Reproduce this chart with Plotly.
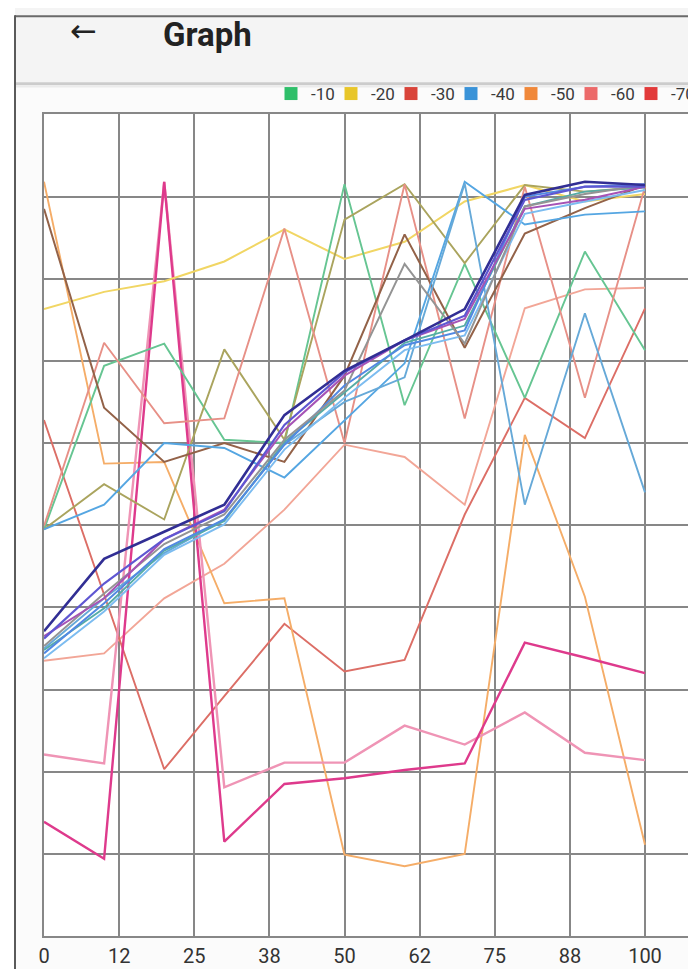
import plotly.graph_objects as go

# ---------------- data ----------------
x_vals = [0, 10, 20, 30, 40, 50, 60, 70, 80, 90, 100]
tick_vals = [0, 12.5, 25, 37.5, 50, 62.5, 75, 87.5, 100]
tick_text = ["0", "12", "25", "38", "50", "62", "75", "88", "100"]

legend_names = ["-10", "-20", "-30", "-40", "-50", "-60", "-70"]
legend_colors = ["#2fbf6a", "#e8c62a", "#d9443a", "#3a93d8", "#f0883a", "#ec6a6a", "#e23a3a"]

s_green = [49.5, 69.4, 72.1, 60.4, 60.0, 91.5, 64.6, 81.8, 65.5, 83.3, 71.3]
s_yellow = [76.3, 78.4, 79.7, 82.1, 86.0, 82.4, 84.5, 89.4, 91.4, 89.4, 90.3]
s_red = [62.8, 41.5, 20.3, 29.2, 38.0, 32.2, 33.6, 51.3, 65.5, 60.6, 76.4]
s_lblue = [49.5, 52.5, 60.0, 59.4, 55.8, 62.8, 69.7, 91.8, 86.6, 87.8, 88.2]
s_orange = [91.8, 57.5, 57.7, 40.5, 41.1, 9.9, 8.5, 10.0, 61.0, 41.3, 11.1]
s_salmon = [49.9, 72.2, 62.4, 63.0, 86.1, 60.0, 91.5, 63.0, 91.2, 65.5, 91.2]
s_lsalmon = [33.5, 34.4, 41.1, 45.3, 51.9, 59.8, 58.3, 52.5, 76.4, 78.7, 78.9]
s_brown = [88.5, 64.3, 57.7, 60.0, 57.7, 68.2, 85.4, 71.6, 85.5, 88.6, 91.4]
s_olive = [49.5, 55.0, 50.7, 71.4, 60.4, 87.2, 91.5, 81.9, 91.4, 90.6, 91.2]
s_magenta = [13.9, 9.4, 91.8, 11.5, 18.5, 19.2, 20.2, 21.0, 35.7, 33.9, 32.0]
s_pink = [22.1, 21.0, 91.8, 18.1, 21.1, 21.1, 25.6, 23.3, 27.2, 22.3, 21.4]
s_navy = [37.1, 45.9, 49.2, 52.5, 63.4, 68.8, 72.5, 76.3, 90.2, 91.8, 91.4]
s_indigo = [36.2, 42.9, 48.3, 51.7, 62.2, 68.6, 72.5, 75.5, 89.6, 91.2, 91.2]
s_gray = [35.3, 41.7, 47.7, 51.3, 60.4, 66.4, 81.8, 72.1, 88.8, 90.3, 91.4]
s_blue = [34.4, 40.5, 47.1, 50.7, 59.8, 67.0, 71.9, 73.7, 90.0, 91.2, 91.5]
s_teal = [34.8, 39.9, 46.9, 50.5, 60.1, 66.2, 72.2, 74.3, 88.8, 90.6, 91.1]
s_sky = [33.8, 39.5, 46.4, 50.1, 59.2, 65.5, 71.3, 73.1, 87.9, 89.4, 90.8]
s_purple = [36.5, 41.1, 48.3, 51.9, 61.6, 68.2, 72.5, 75.1, 88.5, 89.6, 91.2]
s_steel = [35.0, 41.1, 46.6, 50.7, 59.8, 65.0, 68.0, 91.6, 52.5, 75.8, 54.0]

series = [
    (s_lsalmon, "#f2a697", 1.9),
    (s_red, "#dc6e66", 1.9),
    (s_orange, "#f5ad68", 1.9),
    (s_pink, "#ef94b5", 2.4),
    (s_magenta, "#de3a8c", 2.4),
    (s_yellow, "#f1d664", 2.0),
    (s_green, "#66c592", 1.9),
    (s_olive, "#aaa45e", 1.9),
    (s_salmon, "#e79087", 1.9),
    (s_brown, "#936248", 2.0),
    (s_lblue, "#55a6e2", 1.9),
    (s_steel, "#66a9d8", 1.9),
    (s_sky, "#7cbcf0", 1.9),
    (s_teal, "#55aca6", 1.9),
    (s_blue, "#5289e2", 2.0),
    (s_gray, "#949494", 2.0),
    (s_purple, "#a653b5", 2.0),
    (s_indigo, "#5f57d2", 2.2),
    (s_navy, "#312e94", 2.6),
]

# ---------------- geometry (page px -> figure) ----------------
W, H = 696, 969
OFFX, OFFY = 8, 12   # where the page puts the figure
L = 44 - OFFX
T = 112 - OFFY
B = H - (940 - OFFY)
R = 0
PW = W - L - R
PH = H - T - B


def px(p):
    return (p - OFFX - L) / PW


def py(p):
    return (940 - p) / PH


fig = go.Figure()

for vals, col, w in series:
    fig.add_trace(go.Scatter(x=x_vals, y=vals, mode="lines",
                             line=dict(color=col, width=w),
                             showlegend=False, hoverinfo="skip"))

for name, col in zip(legend_names, legend_colors):
    fig.add_trace(go.Scatter(x=[None], y=[None], mode="markers", name=name,
                             marker=dict(symbol="square", size=13, color=col)))

shapes = [
    # app bar
    dict(type="rect", xref="paper", yref="paper", x0=px(15), x1=px(720), y0=py(80), y1=py(0),
         fillcolor="#f4f4f4", line=dict(width=0), layer="below"),
    dict(type="rect", xref="paper", yref="paper", x0=px(0), x1=px(15), y0=py(990), y1=py(0),
         fillcolor="#ffffff", line=dict(width=0), layer="below"),
    dict(type="line", xref="paper", yref="paper", x0=px(15), x1=px(720), y0=py(81), y1=py(81),
         line=dict(color="#cccccc", width=3)),
    dict(type="line", xref="paper", yref="paper", x0=px(15), x1=px(720), y0=py(84), y1=py(84),
         line=dict(color="#ebebeb", width=2)),
    dict(type="line", xref="paper", yref="paper", x0=px(15), x1=px(720), y0=py(OFFY + 1), y1=py(OFFY + 1),
         line=dict(color="#6a6a6a", width=2)),
    dict(type="line", xref="paper", yref="paper", x0=px(15), x1=px(15), y0=py(990), y1=py(OFFY),
         line=dict(color="#5a5a5a", width=2)),
]

annotations = [
    dict(text="\u2190", xref="paper", yref="paper", x=px(83), y=py(28), xanchor="center", yanchor="middle",
         showarrow=False, font=dict(family="DejaVu Sans", size=32, color="#222222")),
    dict(text="Graph", xref="paper", yref="paper", x=px(161), y=py(31), xanchor="left", yanchor="middle",
         showarrow=False, font=dict(family="Roboto", size=33, color="#222222", weight="bold")),
]

grid_col = "#878787"
fig.update_layout(
    width=W, height=H,
    margin=dict(l=L, r=R, t=T, b=B, pad=0),
    paper_bgcolor="#fbfbfb",
    plot_bgcolor="#ffffff",
    shapes=shapes,
    annotations=annotations,
    showlegend=True,
    legend=dict(orientation="h", xref="container", yref="container",
                x=(271 - OFFX) / W, xanchor="left", y=1 - (98 - OFFY) / H, yanchor="middle",
                bgcolor="rgba(0,0,0,0)", font=dict(family="Roboto", size=17, color="#3a3a3a"),
                entrywidth=15, entrywidthmode="pixels", itemclick=False),
    xaxis=dict(range=[0, PW / 6.01], tickvals=tick_vals, ticktext=tick_text,
               showgrid=True, gridcolor=grid_col, gridwidth=2.4, zeroline=False,
               showline=True, mirror=True, linecolor=grid_col, linewidth=2.4,
               ticks="", ticklabelstandoff=1,
               tickfont=dict(family="Liberation Sans Narrow, Roboto", size=20, color="#333333")),
    yaxis=dict(range=[0, 100], dtick=10, showticklabels=False,
               showgrid=True, gridcolor=grid_col, gridwidth=2.4, zeroline=False,
               showline=True, linecolor=grid_col, linewidth=2.4),
)

fig.write_html("out.html")
